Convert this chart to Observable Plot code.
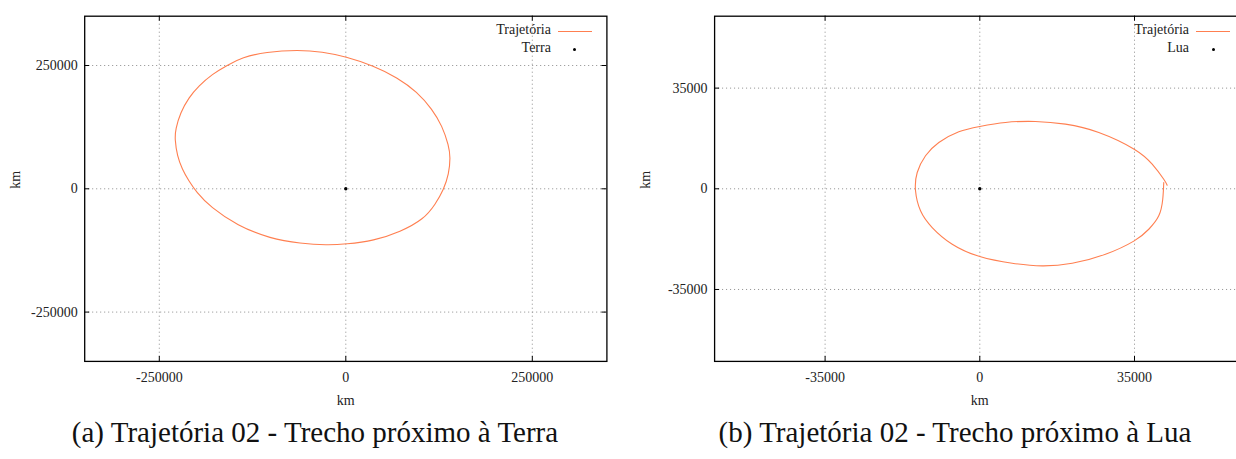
<!DOCTYPE html>
<html>
<head>
<meta charset="utf-8">
<script src="https://cdn.jsdelivr.net/npm/d3@7"></script>
<script src="https://cdn.jsdelivr.net/npm/@observablehq/plot@0.6"></script>
<style>
  html, body { margin: 0; padding: 0; background: #fff; overflow: hidden; width: 1236px; height: 459px; position: relative; }
  .panel { position: absolute; top: 0; overflow: visible; }
  .panel svg { max-width: none !important; }
  .caption { position: absolute; top: 416px; font-family: "Liberation Serif", "Times New Roman", Times, serif; font-size: 29px; color: #111; text-align: center; white-space: nowrap; }
  .leg { position: absolute; font-family: "Liberation Serif", "Times New Roman", Times, serif; font-size: 14px; color: #222; white-space: nowrap; }
</style>
</head>
<body>
<script>
// ---------- Data ----------
// Panel (a): trajectory near Earth (km) — closed loop
const trajA_x = [-63000, -107600, -138900, -159000, -179100, -197100, -210500, -221600, -228300, -229200, -226000, -219300, -210500, -200500, -181400, -145600, -100900, -60700, -24900, -400, 37500, 73300, 104600, 120200, 131400, 138100, 140300, 138100, 129200, 115800, 95700, 68900, 37500, -400, -31600];
const trajA_y = [281800, 277800, 266200, 250600, 232400, 208800, 185100, 154700, 120800, 100600, 66900, 39700, 16200, -6100, -37300, -74400, -101400, -110900, -114400, -112300, -105400, -87200, -61600, -31200, -800, 29600, 63500, 87200, 127700, 161400, 196700, 225700, 249400, 268200, 277800];
const earthPos = [0, 0];
const ticksA = [-250000, 0, 250000];
const domainA = [-350000, 350000];

// Panel (b): trajectory near Moon (km)
const trajB_x = [41620, 41390, 40490, 38230, 34930, 28430, 20900, 14110, 7330, 0, -6240, -10770, -13410, -14540, -14160, -12280, -9270, -4750, 0, 5810, 12600, 19380, 26920, 34930, 39000, 41620, 42390];
const trajB_y = [2190, -3620, -9400, -14060, -18100, -22760, -25890, -26800, -25890, -23560, -19280, -13470, -7660, -700, 5670, 11480, 16110, 19840, 21680, 23070, 23420, 22480, 19590, 13780, 8560, 3340, 1250];
const moonPos = [0, 0];
const ticksB = [-35000, 0, 35000];
const domainB = [-60000, 60000];

const seriesNames = ["Trajetória"];
const bodyNames = ["Terra", "Lua"];
const axisLabel = "km";
const captions = ["(a) Trajetória 02 - Trecho próximo à Terra", "(b) Trajetória 02 - Trecho próximo à Lua"];

const lineColor = "#ff7f50";
const serif = "Liberation Serif, Times New Roman, Times, serif";

function makePanel({xs, ys, body, ticks, domain, left, width, ml, mr, bodyName, caption, capCenter, curve}) {
  const height = 420, mt = 15.7, mb = 59.1;
  const innerW = width - ml - mr, innerH = height - mt - mb;
  const traj = xs.map((x, i) => ({x, y: ys[i]}));
  const fmt = d => String(d);
  const grid = {stroke: "#8c8c8c", strokeOpacity: 1, strokeWidth: 1, strokeDasharray: "1,3"};
  const chart = Plot.plot({
    width, height,
    marginLeft: ml, marginRight: mr, marginTop: mt, marginBottom: mb,
    style: {fontFamily: serif, fontSize: "14px", color: "#222", background: "transparent", overflow: "visible", maxWidth: "none"},
    x: {domain, ticks},
    y: {domain, ticks},
    marks: [
      Plot.gridX(ticks, grid),
      Plot.gridY(ticks, grid),
      Plot.ruleX(ticks, {x: d => d, insetTop: innerH - 5, stroke: "black"}),
      Plot.ruleX(ticks, {x: d => d, insetBottom: innerH - 5, stroke: "black"}),
      Plot.ruleY(ticks, {y: d => d, insetRight: innerW - 5, stroke: "black"}),
      Plot.ruleY(ticks, {y: d => d, insetLeft: innerW - 5, stroke: "black"}),
      Plot.line(traj, {x: "x", y: "y", stroke: lineColor, strokeWidth: 1.1, curve}),
      Plot.dot([body], {x: d => d[0], y: d => d[1], r: 1.7, fill: "black", stroke: null}),
      Plot.frame({stroke: "black", strokeWidth: 1.3}),
      Plot.axisX(ticks, {tickSize: 0, tickPadding: 11, tickFormat: fmt, fontSize: 14, label: null}),
      Plot.axisY(ticks, {tickSize: 0, tickPadding: 7, tickFormat: fmt, fontSize: 14, label: null}),
      Plot.text([axisLabel], {frameAnchor: "bottom", dy: 44, fontSize: 14}),
      Plot.text([axisLabel], {frameAnchor: "left", dx: -69.5, rotate: -90, fontSize: 14})
    ]
  });
  chart.style.maxWidth = "none";
  const div = document.createElement("div");
  div.className = "panel";
  div.style.left = left + "px";
  div.style.width = width + "px";
  div.appendChild(chart);
  document.body.appendChild(div);

  // legend (HTML), anchored to the frame's right edge
  const frameRight = left + width - mr;
  const t1 = document.createElement("div");
  t1.className = "leg";
  t1.textContent = seriesNames[0];
  t1.style.right = (1236 - (frameRight - 55.5)) + "px";
  t1.style.top = "22px";
  document.body.appendChild(t1);
  const ln = document.createElement("div");
  ln.style.cssText = `position:absolute;left:${frameRight - 48.5}px;top:30.5px;width:34px;height:1.2px;background:${lineColor};`;
  document.body.appendChild(ln);
  const t2 = document.createElement("div");
  t2.className = "leg";
  t2.textContent = bodyName;
  t2.style.right = (1236 - (frameRight - 55.5)) + "px";
  t2.style.top = "40px";
  document.body.appendChild(t2);
  const dt = document.createElement("div");
  dt.style.cssText = `position:absolute;left:${frameRight - 33}px;top:47.5px;width:3px;height:3px;border-radius:50%;background:black;`;
  document.body.appendChild(dt);

  const cap = document.createElement("div");
  cap.className = "caption";
  cap.textContent = caption;
  cap.style.left = (capCenter - 300) + "px";
  cap.style.width = "600px";
  document.body.appendChild(cap);
}

makePanel({xs: trajA_x, ys: trajA_y, body: earthPos, ticks: ticksA, domain: domainA, curve: "basis-closed",
  left: 0, width: 620, ml: 84.2, mr: 13.6, bodyName: bodyNames[0], caption: captions[0], capCenter: 315});
makePanel({xs: trajB_x, ys: trajB_y, body: moonPos, ticks: ticksB, domain: domainB, curve: "natural",
  left: 620, width: 640, ml: 94.1, mr: 15.5, bodyName: bodyNames[1], caption: captions[1], capCenter: 955});
</script>
</body>
</html>
